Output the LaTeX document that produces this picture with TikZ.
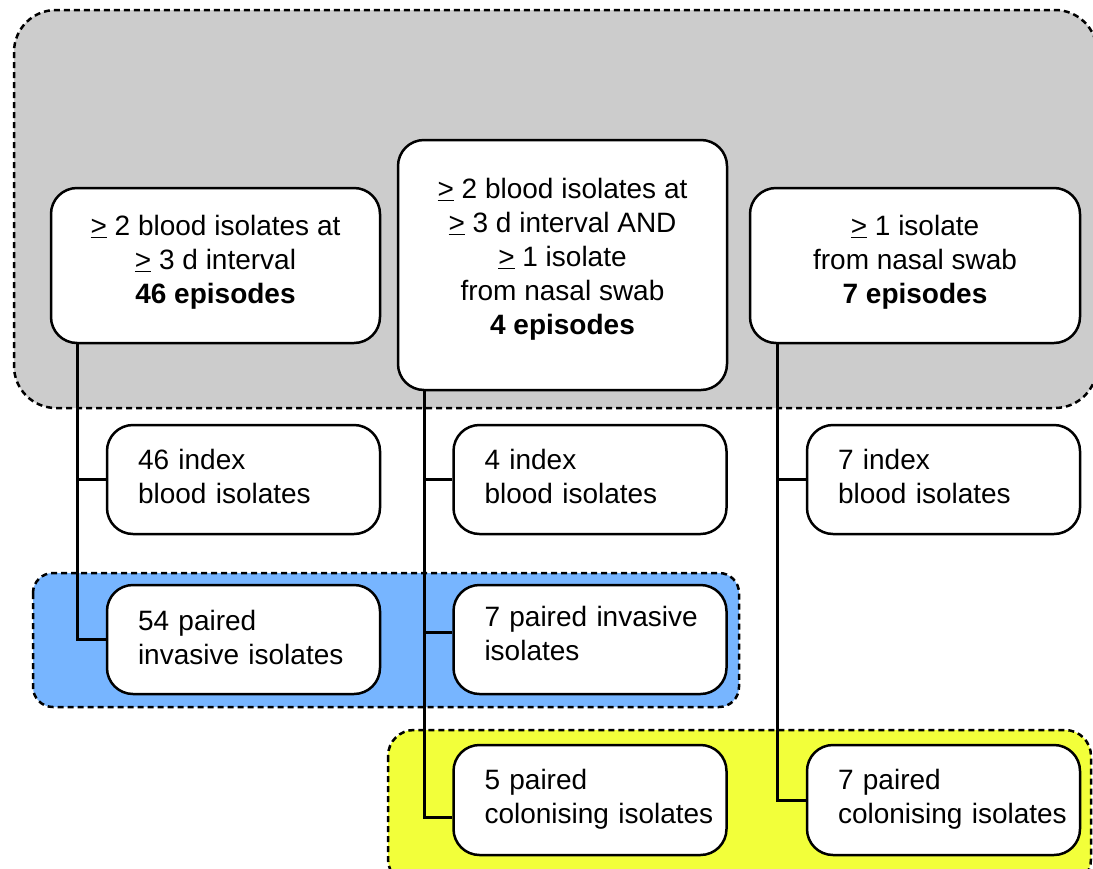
\documentclass[tikz,border=0pt]{standalone}
\usepackage{fontspec}
\setmainfont{Liberation Sans}
\usetikzlibrary{calc}
\definecolor{grayfill}{RGB}{204,204,204}
\definecolor{bluefill}{RGB}{119,181,255}
\definecolor{yellowfill}{RGB}{242,255,58}
\newcommand{\ulgt}{\underline{>}}
\newcommand{\lift}[1]{\par\vspace{#1}\hrule height 0pt}
\begin{document}
\begin{tikzpicture}[x=1pt,y=-1pt,
  every node/.style={font=\fontsize{28}{34}\selectfont},
  box/.style={draw=black, line width=2.5pt, fill=white, rounded corners=26pt, inner sep=0pt},
  topbox/.style={box, align=center, minimum width=329pt},
  sidebox/.style={box, align=left, inner xsep=31pt, inner ysep=0pt, text width=211pt, minimum height=109pt},
  group/.style={draw=black, line width=2.5pt, dash pattern=on 6pt off 4pt},
  link/.style={draw=black, line width=3pt}]
\useasboundingbox (0,0) rectangle (1093,868);
\clip (0,0) rectangle (1093,868);
% group backgrounds
\draw[group, fill=grayfill, rounded corners=42pt] (14,10) rectangle (1097,408);
\draw[group, fill=bluefill, rounded corners=20pt] (33,573) rectangle (739,707);
\draw[group, fill=yellowfill, rounded corners=26pt] (388,730) rectangle (1091,885);
% top boxes
\node[topbox, minimum height=155pt] (A) at (215.5,265.5)
  {\ulgt{} 2 blood isolates at\\\ulgt{} 3 d interval\\\textbf{46 episodes}\\[-22pt]};
\node[topbox, minimum height=250pt] (B) at (562.5,265)
  {\ulgt{} 2 blood isolates at\\\ulgt{} 3 d interval AND\\\ulgt{} 1 isolate\\from nasal swab\\\textbf{4 episodes}\\[-17pt]};
\node[topbox, minimum height=155pt, minimum width=330pt] (C) at (915,265.5)
  {\ulgt{} 1 isolate\\from nasal swab\\\textbf{7 episodes}\\[-22pt]};
% index boxes
\node[sidebox] (A2) at (243.5,479.5) {\mbox{46 index}\\\mbox{blood isolates}\lift{6pt}};
\node[sidebox] (B2) at (590,479.5) {\mbox{4 index}\\\mbox{blood isolates}\lift{6pt}};
\node[sidebox] (C2) at (943.5,479.5) {\mbox{7 index}\\\mbox{blood isolates}\lift{6pt}};
% invasive
\node[sidebox] (A3) at (243.5,639.5) {\mbox{54 paired}\\\mbox{invasive isolates}\lift{4pt}};
\node[sidebox] (B3) at (590,639.5) {\mbox{7 paired invasive}\\\mbox{isolates}\lift{12pt}};
% colonising
\node[sidebox, minimum height=110pt] (B4) at (590,800) {\mbox{5 paired}\\\mbox{colonising isolates}\lift{2pt}};
\node[sidebox, minimum height=110pt] (C4) at (943.5,800) {\mbox{7 paired}\\\mbox{colonising isolates}\lift{2pt}};
% connectors
\coordinate (ta) at (77,0);
\coordinate (tb) at (424,0);
\coordinate (tc) at (777,0);
\coordinate (b3in) at ($(B3.west)+(0,-7)$);
\coordinate (b4in) at ($(B4.west)+(0,17)$);
\draw[link] (ta |- A.south) |- (A3.west);
\draw[link] (ta |- A2.west) -- (A2.west);
\draw[link] (tb |- B.south) |- (b4in);
\draw[link] (tb |- B2.west) -- (B2.west);
\draw[link] (tb |- b3in) -- (b3in);
\draw[link] (tc |- C.south) |- (C4.west);
\draw[link] (tc |- C2.west) -- (C2.west);
\end{tikzpicture}
\end{document}
